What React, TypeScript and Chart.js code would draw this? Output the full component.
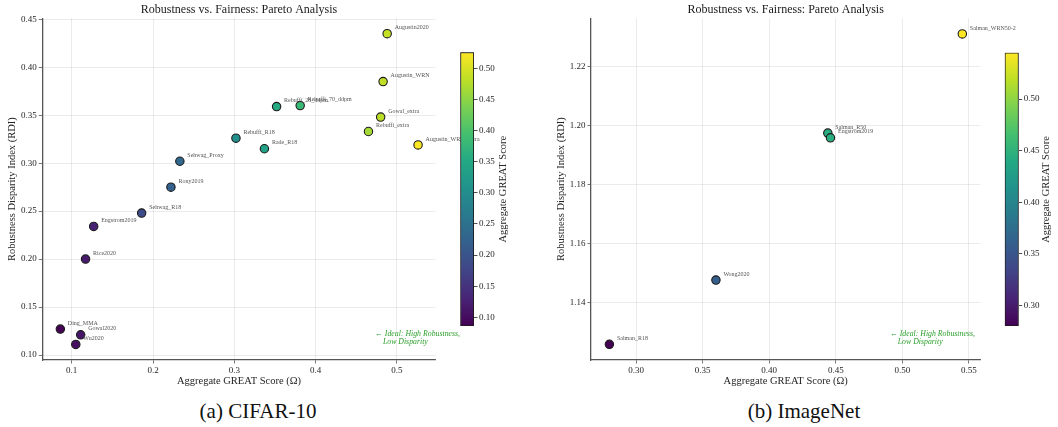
import React, { useEffect, useRef } from 'react';
import { Chart, registerables } from 'chart.js';

Chart.register(...registerables);

const SERIF = "'Liberation Serif', 'DejaVu Serif', serif";

// ---------- CIFAR-10 ----------
const cifarModels = [
  'Augustin2020', 'Augustin_WRN', 'Rebuffi_28_ddpm', 'Rebuffi_70_ddpm', 'Gowal_extra', 'Rebuffi_extra',
  'Augustin_WRN_extra', 'Rebuffi_R18', 'Rade_R18', 'Sehwag_Proxy', 'Rony2019', 'Sehwag_R18',
  'Engstrom2019', 'Rice2020', 'Ding_MMA', 'Gowal2020', 'Wu2020',
];
const cifarScores = [0.488, 0.483, 0.352, 0.381, 0.480, 0.465, 0.526, 0.302, 0.337, 0.233, 0.222, 0.186, 0.127, 0.117, 0.086, 0.111, 0.105];
const cifarRdi = [0.435, 0.385, 0.359, 0.360, 0.348, 0.333, 0.319, 0.326, 0.315, 0.302, 0.275, 0.248, 0.234, 0.200, 0.127, 0.121, 0.111];
const cifarXTicks = [0.1, 0.2, 0.3, 0.4, 0.5];
const cifarYTicks = [0.1, 0.15, 0.2, 0.25, 0.3, 0.35, 0.4, 0.45];
const cifarCbTicks = [0.1, 0.15, 0.2, 0.25, 0.3, 0.35, 0.4, 0.45, 0.5];
const cifarXRange = [0.0638, 0.5477];
const cifarYRange = [0.0948, 0.451];

// ---------- ImageNet ----------
const imagenetModels = ['Salman_WRN50-2', 'Salman_R50', 'Engstrom2019', 'Wong2020', 'Salman_R18'];
const imagenetScores = [0.545, 0.444, 0.446, 0.360, 0.280];
const imagenetRdi = [1.2311, 1.1975, 1.1959, 1.1477, 1.1259];
const imagenetXTicks = [0.3, 0.35, 0.4, 0.45, 0.5, 0.55];
const imagenetYTicks = [1.14, 1.16, 1.18, 1.2, 1.22];
const imagenetCbTicks = [0.3, 0.35, 0.4, 0.45, 0.5];
const imagenetXRange = [0.2662, 0.5585];
const imagenetYRange = [1.1206, 1.2364];

const TITLE = 'Robustness vs. Fairness: Pareto Analysis';
const X_TITLE = 'Aggregate GREAT Score (Ω)';
const Y_TITLE = 'Robustness Disparity Index (RDI)';
const CB_TITLE = 'Aggregate GREAT Score';
const NOTE = ['← Ideal: High Robustness,', '    Low Disparity'];

const VIRIDIS = ['#440154', '#482475', '#414487', '#355f8d', '#2a788e', '#21918c', '#22a884', '#44bf70', '#7ad151', '#bddf26', '#fde725'];

function hexRgb(h: string) {
  return [parseInt(h.slice(1, 3), 16), parseInt(h.slice(3, 5), 16), parseInt(h.slice(5, 7), 16)];
}
function viridis(t: number) {
  const c = Math.max(0, Math.min(1, t));
  const p = c * (VIRIDIS.length - 1);
  const i = Math.min(Math.floor(p), VIRIDIS.length - 2);
  const f = p - i;
  const a = hexRgb(VIRIDIS[i]);
  const b = hexRgb(VIRIDIS[i + 1]);
  const r = a.map((v, k) => Math.round(v + (b[k] - v) * f));
  return `rgb(${r[0]},${r[1]},${r[2]})`;
}

type Geo = {
  left: number; width: number; padRight: number; yAxisWidth: number;
  cbLeft: number; cbWidth: number; cbPadLeft: number; cbAxisWidth: number; cbTop: number; cbBottom: number;
  cbTitleOffset: number; noteX: number; captionCenter: number;
};

type PanelProps = {
  models: string[]; scores: number[]; rdi: number[];
  xTicks: number[]; yTicks: number[]; cbTicks: number[];
  xRange: number[]; yRange: number[]; xDec: number; yDec: number;
  caption: string; geo: Geo;
};

const PLOT_TOP = 18.3;
const PLOT_BOTTOM = 360;
const MAIN_H = 388;
const CB_CANVAS_TOP = 40;
const CB_CANVAS_H = 300;

function Panel(p: PanelProps) {
  const mainRef = useRef<HTMLCanvasElement>(null);
  const cbRef = useRef<HTMLCanvasElement>(null);

  useEffect(() => {
    const g = p.geo;
    const cmin = Math.min(...p.scores);
    const cmax = Math.max(...p.scores);
    const tickFont = { family: SERIF, size: 9 };
    const titleFont = { family: SERIF, size: 10.5 };
    const textColor = '#262626';

    const decor = {
      id: 'decor',
      afterDraw(chart: any) {
        const ctx = chart.ctx;
        const ca = chart.chartArea;
        const meta = chart.getDatasetMeta(0);
        ctx.save();
        ctx.font = `6px ${SERIF}`;
        ctx.fillStyle = '#555555';
        ctx.textAlign = 'left';
        ctx.textBaseline = 'middle';
        meta.data.forEach((el: any, i: number) => {
          ctx.fillText(p.models[i], el.x + 7.5, el.y - 6);
        });
        // note
        ctx.font = `italic 7.8px ${SERIF}`;
        ctx.fillStyle = '#2ca02c';
        const nx = ca.left + (ca.right - ca.left) * g.noteX;
        const ny = ca.top + (ca.bottom - ca.top) * 0.924;
        NOTE.forEach((line, i) => ctx.fillText(line, nx, ny + i * 8.3));
        // title
        ctx.font = `12px ${SERIF}`;
        ctx.fillStyle = '#1a1a1a';
        ctx.textAlign = 'center';
        ctx.fillText(TITLE, (ca.left + ca.right) / 2, 9.5);
        ctx.restore();
      },
    };

    const main = new Chart(mainRef.current as HTMLCanvasElement, {
      type: 'scatter',
      data: {
        datasets: [{
          data: p.scores.map((s, i) => ({ x: s, y: p.rdi[i] })),
          backgroundColor: p.scores.map((s) => viridis((s - cmin) / (cmax - cmin))),
          borderColor: '#1a1a1a',
          borderWidth: 1.1,
          pointRadius: 4.2,
          pointHoverRadius: 4.2,
        }],
      },
      options: {
        responsive: false,
        animation: false,
        layout: { padding: { left: 0, top: PLOT_TOP, right: g.padRight, bottom: 0 } },
        plugins: { legend: { display: false }, tooltip: { enabled: false }, title: { display: false } },
        scales: {
          x: {
            type: 'linear', min: p.xRange[0], max: p.xRange[1],
            afterBuildTicks: (s: any) => { s.ticks = p.xTicks.map((v) => ({ value: v })); },
            afterFit: (s: any) => { s.height = MAIN_H - PLOT_BOTTOM; },
            ticks: { font: tickFont, color: textColor, padding: 2, maxRotation: 0, autoSkip: false, callback: (v: any) => Number(v).toFixed(p.xDec) },
            grid: { color: 'rgba(0,0,0,0.1)', lineWidth: 0.8, tickLength: 3.5, tickColor: '#555' },
            border: { color: '#555', width: 1.3 },
            title: { display: true, text: X_TITLE, font: titleFont, color: textColor, padding: { top: 0, bottom: 0 } },
          },
          y: {
            type: 'linear', min: p.yRange[0], max: p.yRange[1],
            afterBuildTicks: (s: any) => { s.ticks = p.yTicks.map((v) => ({ value: v })); },
            afterFit: (s: any) => { s.width = g.yAxisWidth; },
            ticks: { font: tickFont, color: textColor, padding: 2, autoSkip: false, callback: (v: any) => Number(v).toFixed(p.yDec) },
            grid: { color: 'rgba(0,0,0,0.1)', lineWidth: 0.8, tickLength: 3.5, tickColor: '#555' },
            border: { color: '#555', width: 1.3 },
            title: { display: true, text: Y_TITLE, font: titleFont, color: textColor, padding: { top: g.yAxisWidth - 30 - 6.3, bottom: 0 } },
          },
        },
      } as any,
      plugins: [decor],
    });

    const cbTitle = {
      id: 'cbTitle',
      afterDraw(chart: any) {
        const ctx = chart.ctx;
        const ca = chart.chartArea;
        ctx.save();
        ctx.translate(ca.right + g.cbTitleOffset, (ca.top + ca.bottom) / 2);
        ctx.rotate(-Math.PI / 2);
        ctx.font = `10.5px ${SERIF}`;
        ctx.fillStyle = textColor;
        ctx.textAlign = 'center';
        ctx.textBaseline = 'middle';
        ctx.fillText(CB_TITLE, 0, 0);
        ctx.restore();
      },
    };

    const cb = new Chart(cbRef.current as HTMLCanvasElement, {
      type: 'bar',
      data: {
        labels: ['cb'],
        datasets: [{
          data: [[cmin, cmax]],
          backgroundColor: (c: any) => {
            const ca = c.chart.chartArea;
            if (!ca) return '#888';
            const gr = c.chart.ctx.createLinearGradient(0, ca.bottom, 0, ca.top);
            VIRIDIS.forEach((col, i) => gr.addColorStop(i / (VIRIDIS.length - 1), col));
            return gr;
          },
          borderColor: '#1a1a1a',
          borderWidth: 1.2,
          borderSkipped: false,
          barPercentage: 1,
          categoryPercentage: 1,
        }],
      },
      options: {
        responsive: false,
        animation: false,
        layout: { padding: { left: g.cbPadLeft, top: g.cbTop - CB_CANVAS_TOP, right: 0, bottom: CB_CANVAS_TOP + CB_CANVAS_H - g.cbBottom } },
        plugins: { legend: { display: false }, tooltip: { enabled: false } },
        scales: {
          x: { display: false },
          y: {
            position: 'right', min: cmin, max: cmax,
            afterBuildTicks: (s: any) => { s.ticks = p.cbTicks.map((v) => ({ value: v })); },
            afterFit: (s: any) => { s.width = g.cbAxisWidth; },
            ticks: { font: tickFont, color: textColor, padding: 1.5, autoSkip: false, callback: (v: any) => Number(v).toFixed(2) },
            grid: { drawOnChartArea: false, tickLength: 3.5, tickColor: '#222', lineWidth: 0.8 },
            border: { display: false },
          },
        },
      } as any,
      plugins: [cbTitle],
    });

    return () => { main.destroy(); cb.destroy(); };
  }, []);

  const g = p.geo;
  return (
    <>
      <canvas ref={mainRef} width={g.width} height={MAIN_H}
        style={{ position: 'absolute', left: g.left, top: 0, width: g.width, height: MAIN_H }} />
      <canvas ref={cbRef} width={g.cbWidth} height={CB_CANVAS_H}
        style={{ position: 'absolute', left: g.cbLeft, top: CB_CANVAS_TOP, width: g.cbWidth, height: CB_CANVAS_H }} />
      <div style={{
        position: 'absolute', left: g.captionCenter - 150, width: 300, top: 400, textAlign: 'center',
        fontFamily: SERIF, fontSize: 21, lineHeight: '22px', color: '#111',
      }}>{p.caption}</div>
    </>
  );
}

const leftGeo: Geo = {
  left: 0, width: 490, padRight: 54.3, yAxisWidth: 42.3,
  cbLeft: 455, cbWidth: 70, cbPadLeft: 5.3, cbAxisWidth: 51, cbTop: 52.3, cbBottom: 326,
  cbTitleOffset: 29.7, noteX: 0.846, captionCenter: 258,
};
const rightGeo: Geo = {
  left: 540, width: 490, padRight: 49.7, yAxisWidth: 51,
  cbLeft: 1000, cbWidth: 58, cbPadLeft: 4.7, cbAxisWidth: 39.3, cbTop: 52.7, cbBottom: 326,
  cbTitleOffset: 28, noteX: 0.768, captionCenter: 804,
};

export default function App() {
  return (
    <div style={{ position: 'absolute', left: 0, top: 0, width: 1058, height: 427, background: '#fff', overflow: 'hidden' }}>
      <Panel models={cifarModels} scores={cifarScores} rdi={cifarRdi} xTicks={cifarXTicks} yTicks={cifarYTicks}
        cbTicks={cifarCbTicks} xRange={cifarXRange} yRange={cifarYRange} xDec={1} yDec={2}
        caption="(a) CIFAR-10" geo={leftGeo} />
      <Panel models={imagenetModels} scores={imagenetScores} rdi={imagenetRdi} xTicks={imagenetXTicks} yTicks={imagenetYTicks}
        cbTicks={imagenetCbTicks} xRange={imagenetXRange} yRange={imagenetYRange} xDec={2} yDec={2}
        caption="(b) ImageNet" geo={rightGeo} />
    </div>
  );
}
